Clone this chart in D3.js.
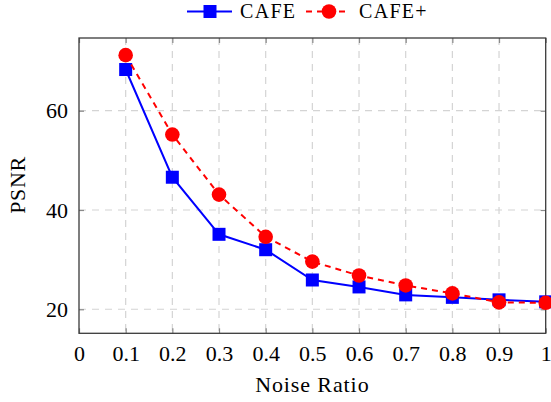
<!DOCTYPE html>
<html>
<head>
<meta charset="utf-8">
<script src="https://cdn.jsdelivr.net/npm/d3@7"></script>
<style>
  body { margin: 0; background: #fff; }
  svg text { font-family: "Liberation Serif", "Times New Roman", Times, "DejaVu Serif", serif; fill: #000; }
</style>
</head>
<body>
<svg id="chart" width="551" height="402"></svg>
<script>
// noise ratios
var ratios = [0.1, 0.2, 0.3, 0.4, 0.5, 0.6, 0.7, 0.8, 0.9, 1.0];
var cafe = [68.3, 46.6, 35.1, 32.0, 25.9, 24.5, 22.9, 22.4, 21.9, 21.5];
var cafePlus = [71.2, 55.2, 43.1, 34.6, 29.6, 26.8, 24.8, 23.2, 21.4, 21.3];
var xTicks = [0, 0.1, 0.2, 0.3, 0.4, 0.5, 0.6, 0.7, 0.8, 0.9, 1];
var yTicks = [20, 40, 60];

var serif = "'Liberation Serif', 'Times New Roman', Times, 'DejaVu Serif', serif";

var svg = d3.select("#chart"),
    margin = {top: 38, right: 5.3, bottom: 68.7, left: 79},
    width = +svg.attr("width") - margin.left - margin.right,
    height = +svg.attr("height") - margin.top - margin.bottom;

var x = d3.scaleLinear().domain([0, 1]).range([0, width]);
var y = d3.scaleLinear().domain([15.16, 74.65]).range([height, 0]);

var g = svg.append("g")
    .attr("transform", "translate(" + margin.left + "," + margin.top + ")");

// grid
g.append("g")
    .selectAll("line")
    .data(xTicks.slice(1, -1))
    .enter().append("line")
    .attr("x1", function(d) { return x(d); })
    .attr("x2", function(d) { return x(d); })
    .attr("y1", 0).attr("y2", height)
    .attr("stroke", "#d4d4d4").attr("stroke-width", 1.2)
    .attr("stroke-dasharray", "7,6");

g.append("g")
    .selectAll("line")
    .data(yTicks)
    .enter().append("line")
    .attr("x1", 0).attr("x2", width)
    .attr("y1", function(d) { return y(d); })
    .attr("y2", function(d) { return y(d); })
    .attr("stroke", "#d4d4d4").attr("stroke-width", 1.2)
    .attr("stroke-dasharray", "7,6");

// axes, ticks drawn inside like pgfplots
g.append("g")
    .attr("class", "axis axis--x")
    .attr("transform", "translate(0," + height + ")")
    .call(d3.axisBottom(x).tickValues(xTicks).tickSize(-5).tickPadding(12)
      .tickFormat(function(d) { return d === 1 ? "1" : d3.format("")(d); }));

g.append("g")
    .attr("class", "axis axis--y")
    .call(d3.axisLeft(y).tickValues(yTicks).tickSize(-5).tickPadding(11));

g.append("g")
    .call(d3.axisTop(x).tickValues(xTicks).tickSize(-5).tickFormat(""));

g.append("g")
    .attr("transform", "translate(" + width + ",0)")
    .call(d3.axisRight(y).tickValues(yTicks).tickSize(-5).tickFormat(""));

g.selectAll(".domain").remove();
g.selectAll("g").attr("font-family", null).attr("font-size", null);
g.selectAll(".tick line").attr("stroke", "#8a8a8a").attr("stroke-width", 1.2);
g.selectAll(".tick text")
    .attr("font-family", serif)
    .attr("font-size", 22)
    .attr("fill", "#000");

g.append("rect")
    .attr("x", 0).attr("y", 0)
    .attr("width", width).attr("height", height)
    .attr("fill", "none")
    .attr("stroke", "#3a3a3a").attr("stroke-width", 1.3);

// lines
var line = d3.line()
    .x(function(d) { return x(d[0]); })
    .y(function(d) { return y(d[1]); });

var blueData = ratios.map(function(r, i) { return [r, cafe[i]]; });
var redData = ratios.map(function(r, i) { return [r, cafePlus[i]]; });

g.append("path")
    .datum(blueData)
    .attr("d", line)
    .attr("fill", "none")
    .attr("stroke", "#0000ff").attr("stroke-width", 2);

g.selectAll(".sq")
    .data(blueData)
    .enter().append("rect")
    .attr("class", "sq")
    .attr("x", function(d) { return x(d[0]) - 6.5; })
    .attr("y", function(d) { return y(d[1]) - 6.5; })
    .attr("width", 13).attr("height", 13)
    .attr("fill", "#0000ff");

g.append("path")
    .datum(redData)
    .attr("d", line)
    .attr("fill", "none")
    .attr("stroke", "#ff0000").attr("stroke-width", 2)
    .attr("stroke-dasharray", "6,5");

g.selectAll(".dot")
    .data(redData)
    .enter().append("circle")
    .attr("class", "dot")
    .attr("cx", function(d) { return x(d[0]); })
    .attr("cy", function(d) { return y(d[1]); })
    .attr("r", 7.3)
    .attr("fill", "#ff0000");

// axis labels
svg.append("text")
    .attr("x", margin.left + width / 2)
    .attr("y", 392)
    .attr("text-anchor", "middle")
    .attr("font-family", serif).attr("font-size", 22)
    .attr("letter-spacing", 0.9)
    .text("Noise Ratio");

svg.append("text")
    .attr("transform", "translate(25,185) rotate(-90)")
    .attr("text-anchor", "middle")
    .attr("font-family", serif).attr("font-size", 22)
    .attr("letter-spacing", 0.6)
    .text("PSNR");

// legend
var legend = svg.append("g");
legend.append("line")
    .attr("x1", 187).attr("x2", 232).attr("y1", 11.5).attr("y2", 11.5)
    .attr("stroke", "#0000ff").attr("stroke-width", 2);
legend.append("rect")
    .attr("x", 203.5).attr("y", 5).attr("width", 13).attr("height", 13)
    .attr("fill", "#0000ff");
legend.append("text")
    .attr("x", 240).attr("y", 18)
    .attr("font-family", serif).attr("font-size", 20)
    .attr("letter-spacing", 1.3)
    .text("CAFE");
legend.append("line")
    .attr("x1", 306).attr("x2", 347).attr("y1", 11.5).attr("y2", 11.5)
    .attr("stroke", "#ff0000").attr("stroke-width", 2)
    .attr("stroke-dasharray", "6,5");
legend.append("circle")
    .attr("cx", 329).attr("cy", 11.5).attr("r", 7.3)
    .attr("fill", "#ff0000");
legend.append("text")
    .attr("x", 359).attr("y", 18)
    .attr("font-family", serif).attr("font-size", 20)
    .attr("letter-spacing", 1.3)
    .text("CAFE+");
</script>
</body>
</html>
